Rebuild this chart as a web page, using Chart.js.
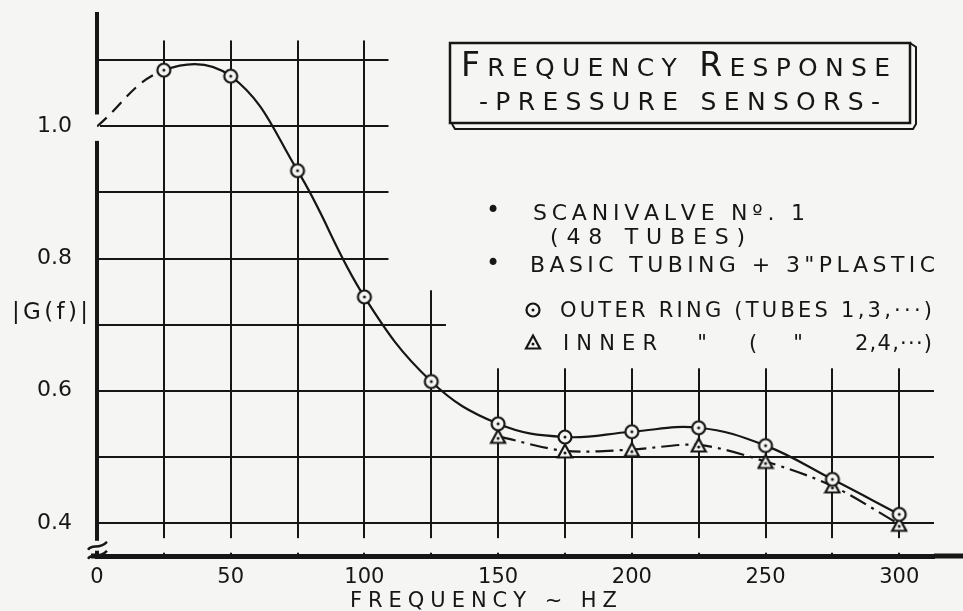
<!DOCTYPE html>
<html>
<head>
<meta charset="utf-8">
<script src="https://cdn.jsdelivr.net/npm/chart.js@4.4.0/dist/chart.umd.min.js"></script>
<style>
    html, body { margin: 0; padding: 0; background: #f5f5f3; }
    #wrap { width: 963px; height: 611px; }
</style>
</head>
<body>
<div id="wrap"><canvas id="freqChart" width="963" height="611"></canvas></div>
<script>
// values (|G(f)| against frequency in Hz)
const freqOuter = [0, 25, 50, 75, 100, 125, 150, 175, 200, 225, 250, 275, 300];
const gainOuter = [1.0, 1.085, 1.076, 0.933, 0.742, 0.614, 0.550, 0.530, 0.538, 0.544, 0.517, 0.466, 0.413];
const freqInner = [150, 175, 200, 225, 250, 275, 300];
const gainInner = [0.531, 0.509, 0.511, 0.518, 0.493, 0.456, 0.398];
const xTickLabels = [0, 50, 100, 150, 200, 250, 300];
const yTickLabels = [0.4, 0.6, 0.8, 1.0];

const INK = '#161616';
const BG = '#f5f5f3';
const FONT = '"DejaVu Sans", sans-serif';

function makeMarker(kind) {
    let c = document.createElement('canvas');
    c.width = 18;
    c.height = 18;
    let g = c.getContext('2d');
    g.strokeStyle = INK;
    g.fillStyle = BG;
    g.lineWidth = 2.2;
    g.beginPath();
    if (kind === 'circle') {
        g.arc(9, 9, 6.5, 0, Math.PI * 2);
    } else {
        g.moveTo(9, 2.5);
        g.lineTo(16, 15.5);
        g.lineTo(2, 15.5);
        g.closePath();
    }
    g.fill();
    g.stroke();
    g.fillStyle = INK;
    g.beginPath();
    g.arc(9, kind === 'circle' ? 9 : 11, 1.5, 0, Math.PI * 2);
    g.fill();
    return c;
}
const circleMark = makeMarker('circle');
const triangleMark = makeMarker('triangle');

// draw pieces of text spread evenly between left and right, on one baseline
function spread(ctx, parts, left, right, baseline) {
    let chars = [];
    parts.forEach(p => {
        for (let ch of p.t) chars.push({ch: ch, font: p.font});
    });
    let total = 0;
    chars.forEach(c => {
        ctx.font = c.font;
        c.w = ctx.measureText(c.ch).width;
        total += c.w;
    });
    let gap = chars.length > 1 ? (right - left - total) / (chars.length - 1) : 0;
    let x = left;
    ctx.textAlign = 'left';
    ctx.textBaseline = 'alphabetic';
    chars.forEach(c => {
        ctx.font = c.font;
        ctx.fillText(c.ch, x, baseline);
        x += c.w + gap;
    });
}

function plain(text, size) {
    return [{t: text, font: size + 'px ' + FONT}];
}

const sheetPlugin = {
    id: 'sheet',
    beforeDraw(chart) {
        let ctx = chart.ctx;
        ctx.save();
        ctx.fillStyle = BG;
        ctx.fillRect(0, 0, chart.width, chart.height);
        ctx.restore();
    },
    beforeDatasetsDraw(chart) {
        let ctx = chart.ctx;
        let a = chart.chartArea;
        let x = chart.scales.x;
        let y = chart.scales.y;
        ctx.save();
        ctx.fillStyle = BG;
        // keep the grid out of the note area, like the drawing
        ctx.fillRect(x.getPixelForValue(109), 0, chart.width, y.getPixelForValue(0.752));
        ctx.fillRect(x.getPixelForValue(130.5), 0, chart.width, y.getPixelForValue(0.634));
        ctx.fillRect(a.left + 3, 0, chart.width, y.getPixelForValue(1.13));
        // grid stops short of the frequency axis
        ctx.fillRect(a.left + 3, y.getPixelForValue(0.377), a.right - a.left, y.getPixelForValue(0.355) - y.getPixelForValue(0.377));
        // gap in the axis where the dashed line starts
        ctx.fillRect(a.left - 3, y.getPixelForValue(1.018), 6, y.getPixelForValue(0.978) - y.getPixelForValue(1.018));
        // gap for the axis break
        ctx.fillRect(a.left - 3, y.getPixelForValue(0.373), 6, y.getPixelForValue(0.358) - y.getPixelForValue(0.373));
        ctx.restore();
    },
    afterDraw(chart) {
        let ctx = chart.ctx;
        let a = chart.chartArea;
        let y = chart.scales.y;
        ctx.save();
        ctx.strokeStyle = INK;
        ctx.fillStyle = INK;

        // frequency axis runs past the plot on both sides
        ctx.lineWidth = 5;
        ctx.beginPath();
        ctx.moveTo(a.left - 6, a.bottom);
        ctx.lineTo(a.left, a.bottom);
        ctx.moveTo(a.right, a.bottom);
        ctx.lineTo(chart.width, a.bottom);
        ctx.stroke();

        // axis break mark
        ctx.lineWidth = 2.5;
        let by = y.getPixelForValue(0.373);
        for (let k = 0; k < 2; k++) {
            let yy = by + 5 + k * 9;
            ctx.beginPath();
            ctx.moveTo(a.left - 9, yy + 4);
            ctx.bezierCurveTo(a.left - 4, yy - 3, a.left + 1, yy + 5, a.left + 10, yy - 4);
            ctx.stroke();
        }

        // title box
        ctx.lineWidth = 2.5;
        ctx.strokeRect(450, 43, 460, 80);
        ctx.lineWidth = 2;
        ctx.beginPath();
        ctx.moveTo(452, 124);
        ctx.lineTo(455, 129);
        ctx.lineTo(913, 129);
        ctx.lineTo(916, 124);
        ctx.lineTo(916, 47);
        ctx.lineTo(910, 43);
        ctx.stroke();

        let big = '33px ' + FONT;
        let small = '25px ' + FONT;
        spread(ctx, [
            {t: 'F', font: big}, {t: 'REQUENCY', font: small}, {t: ' ', font: small},
            {t: 'R', font: big}, {t: 'ESPONSE', font: small}
        ], 461, 890, 76);
        spread(ctx, plain('-PRESSURE SENSORS-', 25), 479, 880, 110);

        // notes
        ctx.font = '24px ' + FONT;
        ctx.textAlign = 'center';
        ctx.textBaseline = 'middle';
        ctx.fillText('\u2022', 493, 212);
        ctx.fillText('\u2022', 493, 265);
        spread(ctx, plain('SCANIVALVE N\u00BA. 1', 22), 533, 805, 220);
        spread(ctx, plain('(48 TUBES)', 22), 550, 745, 244);
        spread(ctx, plain('BASIC TUBING + 3"PLASTIC', 22), 530, 935, 272);

        ctx.drawImage(circleMark, 533 - 9, 310 - 9);
        spread(ctx, plain('OUTER RING (TUBES 1,3,\u00B7\u00B7\u00B7)', 21), 560, 932, 317);
        ctx.drawImage(triangleMark, 533 - 9, 343 - 10);
        spread(ctx, plain('INNER', 21), 563, 657, 350);
        ctx.font = '21px ' + FONT;
        ctx.textAlign = 'center';
        ctx.textBaseline = 'alphabetic';
        ctx.fillText('"', 702, 350);
        ctx.fillText('(', 753, 350);
        ctx.fillText('"', 798, 350);
        spread(ctx, plain('2,4,\u00B7\u00B7\u00B7)', 21), 855, 932, 350);

        // axis titles
        spread(ctx, plain('|G(f)|', 23), 12, 88, 319);
        spread(ctx, plain('FREQUENCY ~ HZ', 21), 350, 617, 607);
        ctx.restore();
    }
};

function isListed(list, v) {
    return list.some(t => Math.abs(t - v) < 1e-6);
}

new Chart(document.getElementById('freqChart'), {
    type: 'line',
    data: {
        datasets: [
            {
                label: 'Outer ring (tubes 1,3,...)',
                data: freqOuter.map((f, i) => ({x: f, y: gainOuter[i]})),
                borderColor: INK,
                borderWidth: 2.2,
                tension: 0.4,
                fill: false,
                pointStyle: circleMark,
                pointRadius: freqOuter.map((f, i) => i === 0 ? 0 : 7),
                segment: {
                    borderDash: ctx => ctx.p0DataIndex === 0 ? [13, 8] : undefined
                }
            },
            {
                label: 'Inner (tubes 2,4,...)',
                data: freqInner.map((f, i) => ({x: f, y: gainInner[i]})),
                borderColor: INK,
                borderWidth: 2.2,
                borderDash: [18, 6, 3, 6],
                tension: 0.3,
                fill: false,
                pointStyle: triangleMark,
                pointRadius: 7
            }
        ]
    },
    options: {
        responsive: false,
        animation: false,
        layout: {padding: {top: 14, right: 29, left: 0, bottom: 0}},
        plugins: {
            legend: {display: false},
            tooltip: {enabled: false}
        },
        scales: {
            x: {
                type: 'linear',
                min: 0,
                max: 313,
                afterFit: scale => {
                    scale.height = 55;
                    scale.paddingLeft = 0;
                    scale.paddingRight = 0;
                },
                grid: {color: INK, lineWidth: 2, drawTicks: false},
                border: {color: INK, width: 5},
                ticks: {
                    stepSize: 25,
                    includeBounds: false,
                    autoSkip: false,
                    maxRotation: 0,
                    padding: 9,
                    color: INK,
                    font: {family: FONT, size: 21},
                    callback: v => isListed(xTickLabels, v) ? String(v) : ''
                }
            },
            y: {
                type: 'linear',
                min: 0.35,
                max: 1.17,
                afterFit: scale => {
                    scale.width = 97;
                    scale.paddingTop = 0;
                    scale.paddingBottom = 0;
                },
                grid: {color: INK, lineWidth: 2, drawTicks: false},
                border: {color: INK, width: 4},
                ticks: {
                    stepSize: 0.1,
                    includeBounds: false,
                    autoSkip: false,
                    padding: 25,
                    color: INK,
                    font: {family: FONT, size: 22},
                    callback: v => isListed(yTickLabels, v) ? v.toFixed(1) : ''
                }
            }
        }
    },
    plugins: [sheetPlugin]
});
</script>
</body>
</html>
